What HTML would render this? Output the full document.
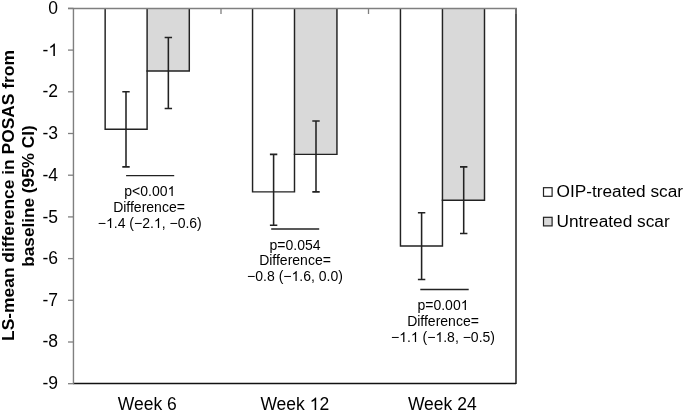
<!DOCTYPE html>
<html><head><meta charset="utf-8"><style>
html,body{margin:0;padding:0;background:#fff;}
svg{display:block;will-change:transform;}
text{font-family:"Liberation Sans",sans-serif;fill:#000;}
.t17{font-size:17.5px;}
.t14{font-size:14px;}
.tl{font-size:17.25px;}
.tb{font-size:17.2px;font-weight:bold;}
.h1{fill-opacity:0;}
</style></head><body>
<svg width="685" height="411" viewBox="0 0 685 411">
<line x1="516" y1="8" x2="516" y2="384" stroke="#4d4d4d" stroke-width="1.9"/>
<line x1="73" y1="383.5" x2="516.0" y2="383.5" stroke="#111" stroke-width="1.3"/>
<rect x="147.10" y="8.4" width="42.20" height="62.55" fill="#d9d9d9"/>
<path d="M105.15 8.4V129.33H147.10V8.4" fill="none" stroke="#222" stroke-width="1.45"/>
<path d="M146.38 70.95H189.30V8.4" fill="none" stroke="#222" stroke-width="1.45"/>
<path d="M126.00 91.80V166.86M122.30 91.80h7.4M122.30 166.86h7.4" stroke="#222" stroke-width="1.55" fill="none"/>
<path d="M168.35 37.59V108.48M164.65 37.59h7.4M164.65 108.48h7.4" stroke="#222" stroke-width="1.55" fill="none"/>
<rect x="294.50" y="8.4" width="42.45" height="145.95" fill="#d9d9d9"/>
<path d="M252.55 8.4V191.88H294.50V8.4" fill="none" stroke="#222" stroke-width="1.45"/>
<path d="M293.77 154.35H336.95V8.4" fill="none" stroke="#222" stroke-width="1.45"/>
<path d="M273.60 154.35V225.24M269.90 154.35h7.4M269.90 225.24h7.4" stroke="#222" stroke-width="1.55" fill="none"/>
<path d="M316.00 120.99V191.88M312.30 120.99h7.4M312.30 191.88h7.4" stroke="#222" stroke-width="1.55" fill="none"/>
<rect x="442.45" y="8.4" width="42.05" height="191.82" fill="#d9d9d9"/>
<path d="M400.45 8.4V246.09H442.45V8.4" fill="none" stroke="#222" stroke-width="1.45"/>
<path d="M441.72 200.22H484.50V8.4" fill="none" stroke="#222" stroke-width="1.45"/>
<path d="M421.60 212.73V279.45M417.90 212.73h7.4M417.90 279.45h7.4" stroke="#222" stroke-width="1.55" fill="none"/>
<path d="M463.70 166.86V233.58M460.00 166.86h7.4M460.00 233.58h7.4" stroke="#222" stroke-width="1.55" fill="none"/>
<line x1="73.45" y1="8" x2="73.45" y2="384" stroke="#7f7f7f" stroke-width="1.4"/>
<line x1="68" y1="8.55" x2="516.9" y2="8.55" stroke="#7f7f7f" stroke-width="1.4"/>
<line x1="68" y1="8.40" x2="73.5" y2="8.40" stroke="#7f7f7f" stroke-width="1.3"/>
<line x1="68" y1="50.10" x2="73.5" y2="50.10" stroke="#7f7f7f" stroke-width="1.3"/>
<line x1="68" y1="91.80" x2="73.5" y2="91.80" stroke="#7f7f7f" stroke-width="1.3"/>
<line x1="68" y1="133.50" x2="73.5" y2="133.50" stroke="#7f7f7f" stroke-width="1.3"/>
<line x1="68" y1="175.20" x2="73.5" y2="175.20" stroke="#7f7f7f" stroke-width="1.3"/>
<line x1="68" y1="216.90" x2="73.5" y2="216.90" stroke="#7f7f7f" stroke-width="1.3"/>
<line x1="68" y1="258.60" x2="73.5" y2="258.60" stroke="#7f7f7f" stroke-width="1.3"/>
<line x1="68" y1="300.30" x2="73.5" y2="300.30" stroke="#7f7f7f" stroke-width="1.3"/>
<line x1="68" y1="342.00" x2="73.5" y2="342.00" stroke="#7f7f7f" stroke-width="1.3"/>
<line x1="68" y1="383.70" x2="73.5" y2="383.70" stroke="#7f7f7f" stroke-width="1.3"/>
<line x1="221.00" y1="9" x2="221.00" y2="14" stroke="#7f7f7f" stroke-width="1.3"/>
<line x1="368.50" y1="9" x2="368.50" y2="14" stroke="#7f7f7f" stroke-width="1.3"/>
<line x1="516.00" y1="9" x2="516.00" y2="14" stroke="#7f7f7f" stroke-width="1.3"/>
<text x="58.1" y="14" text-anchor="end" class="t17">0</text>
<text x="58.1" y="56" text-anchor="end" class="t17">-<tspan class="h1">1</tspan></text>
<text x="58.1" y="97" text-anchor="end" class="t17">-2</text>
<text x="58.1" y="139" text-anchor="end" class="t17">-3</text>
<text x="58.1" y="181" text-anchor="end" class="t17">-4</text>
<text x="58.1" y="223" text-anchor="end" class="t17">-5</text>
<text x="58.1" y="264" text-anchor="end" class="t17">-6</text>
<text x="58.1" y="306" text-anchor="end" class="t17">-7</text>
<text x="58.1" y="347" text-anchor="end" class="t17">-8</text>
<text x="58.1" y="389" text-anchor="end" class="t17">-9</text>
<text x="147.25" y="409.7" text-anchor="middle" class="t17">Week 6</text>
<text x="294.75" y="409.7" text-anchor="middle" class="t17">Week <tspan class="h1">1</tspan>2</text>
<text x="442.25" y="409.7" text-anchor="middle" class="t17">Week 24</text>
<line x1="126.1" y1="175.6" x2="174.2" y2="175.6" stroke="#222" stroke-width="1.45"/>
<line x1="271.2" y1="228.9" x2="319.2" y2="228.9" stroke="#222" stroke-width="1.45"/>
<line x1="420.3" y1="289.45" x2="468.7" y2="289.45" stroke="#222" stroke-width="1.45"/>
<text x="149.8" y="196.20" text-anchor="middle" class="t14">p&lt;0.00<tspan class="h1">1</tspan></text>
<text x="149.0" y="211.60" text-anchor="middle" class="t14">Difference=</text>
<text x="149.8" y="227.60" text-anchor="middle" class="t14">−<tspan class="h1">1</tspan>.4 (−2.<tspan class="h1">1</tspan>, −0.6)</text>
<text x="295" y="249.50" text-anchor="middle" class="t14">p=0.054</text>
<text x="295" y="264.90" text-anchor="middle" class="t14">Difference=</text>
<text x="295" y="280.90" text-anchor="middle" class="t14">−0.8 (−<tspan class="h1">1</tspan>.6, 0.0)</text>
<text x="443" y="309.90" text-anchor="middle" class="t14">p=0.00<tspan class="h1">1</tspan></text>
<text x="443" y="325.80" text-anchor="middle" class="t14">Difference=</text>
<text x="443" y="341.80" text-anchor="middle" class="t14">−<tspan class="h1">1</tspan>.<tspan class="h1">1</tspan> (−<tspan class="h1">1</tspan>.8, −0.5)</text>
<text transform="translate(14,195.5) rotate(-90)" text-anchor="middle" class="tb" style="font-size:17.4px">LS-mean difference in POSAS from</text>
<text transform="translate(33.6,196) rotate(-90)" text-anchor="middle" class="tb">baseline (95% CI)</text>
<rect x="543.5" y="187.7" width="8.6" height="8.6" fill="#fff" stroke="#222" stroke-width="1.2"/>
<rect x="543.5" y="217.3" width="8.6" height="8.6" fill="#d9d9d9" stroke="#222" stroke-width="1.2"/>
<text x="556.5" y="197.2" class="tl">OIP-treated scar</text>
<text x="556.5" y="227" class="tl">Untreated scar</text>
<path d="M763 0H583V1147Q518 1085 412.5 1023Q307 961 223 930V1104Q374 1175 487 1276Q600 1377 647 1472H763Z" transform="translate(48.37,56) scale(0.008545,-0.008545)"/>
<path d="M763 0H583V1147Q518 1085 412.5 1023Q307 961 223 930V1104Q374 1175 487 1276Q600 1377 647 1472H763Z" transform="translate(309.66,410) scale(0.008545,-0.008545)"/>
<path d="M763 0H583V1147Q518 1085 412.5 1023Q307 961 223 930V1104Q374 1175 487 1276Q600 1377 647 1472H763Z" transform="translate(167.51,196) scale(0.006836,-0.006836)"/>
<path d="M763 0H583V1147Q518 1085 412.5 1023Q307 961 223 930V1104Q374 1175 487 1276Q600 1377 647 1472H763Z" transform="translate(106.00,228) scale(0.006836,-0.006836)"/>
<path d="M763 0H583V1147Q518 1085 412.5 1023Q307 961 223 930V1104Q374 1175 487 1276Q600 1377 647 1472H763Z" transform="translate(153.89,228) scale(0.006836,-0.006836)"/>
<path d="M763 0H583V1147Q518 1085 412.5 1023Q307 961 223 930V1104Q374 1175 487 1276Q600 1377 647 1472H763Z" transform="translate(291.49,281) scale(0.006836,-0.006836)"/>
<path d="M763 0H583V1147Q518 1085 412.5 1023Q307 961 223 930V1104Q374 1175 487 1276Q600 1377 647 1472H763Z" transform="translate(460.71,310) scale(0.006836,-0.006836)"/>
<path d="M763 0H583V1147Q518 1085 412.5 1023Q307 961 223 930V1104Q374 1175 487 1276Q600 1377 647 1472H763Z" transform="translate(399.20,342) scale(0.006836,-0.006836)"/>
<path d="M763 0H583V1147Q518 1085 412.5 1023Q307 961 223 930V1104Q374 1175 487 1276Q600 1377 647 1472H763Z" transform="translate(410.89,342) scale(0.006836,-0.006836)"/>
<path d="M763 0H583V1147Q518 1085 412.5 1023Q307 961 223 930V1104Q374 1175 487 1276Q600 1377 647 1472H763Z" transform="translate(435.42,342) scale(0.006836,-0.006836)"/>

</svg>
</body></html>
